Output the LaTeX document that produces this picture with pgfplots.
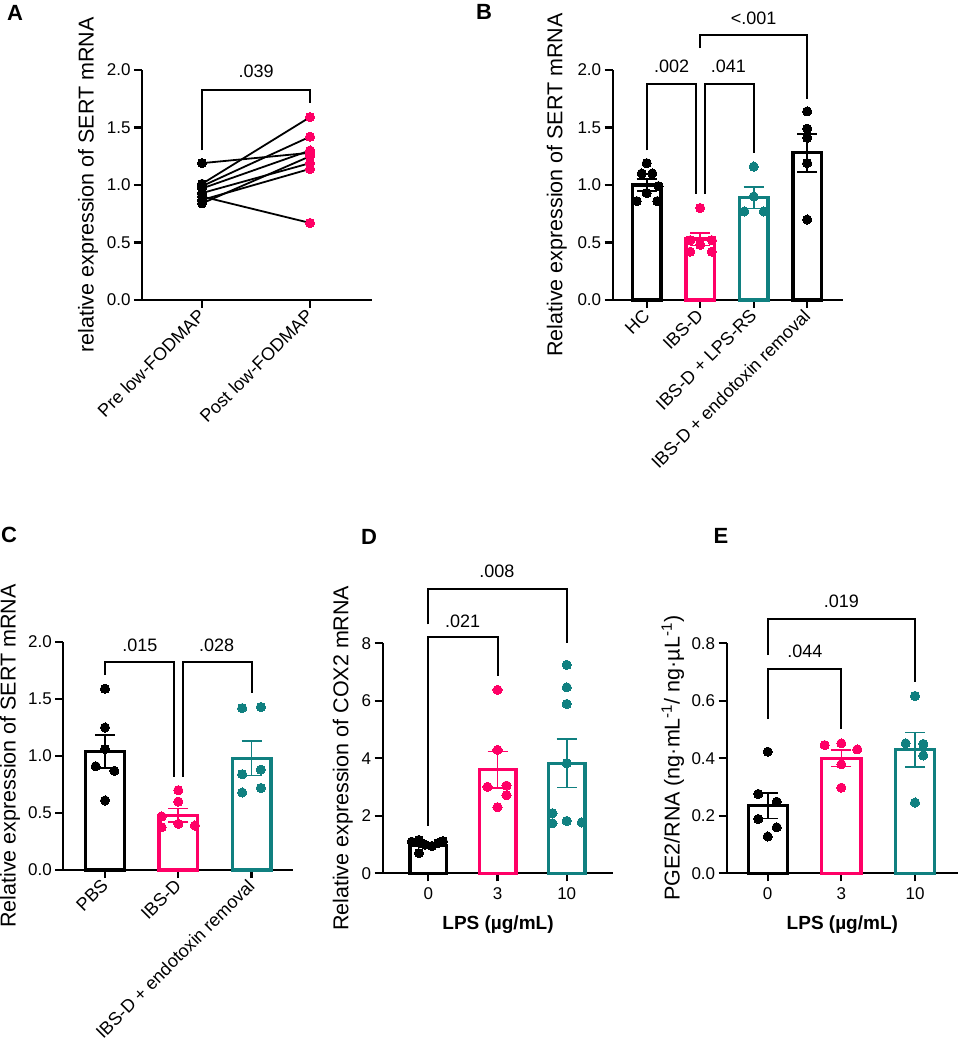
\documentclass[border=0pt]{standalone}
\usepackage{fontspec}
\setmainfont{Liberation Sans}
\usepackage{pgfplots}
\pgfplotsset{compat=1.18}
\definecolor{gpink}{RGB}{255,0,102}
\definecolor{gteal}{RGB}{16,128,128}
\newcommand\tickfont{\fontsize{17}{20}\selectfont}
\newcommand\rotfont{\fontsize{18}{21}\selectfont}
\newcommand\titlefont{\fontsize{21.5}{24}\selectfont}
\newcommand\brfont{\fontsize{18}{21}\selectfont}
\newcommand\letfont{\fontsize{22}{24}\selectfont\bfseries}
\pgfplotsset{
 gp/.style={
  scale only axis, clip=false,
  axis x line*=bottom, axis y line*=left,
  axis line style={-, line width=2.2pt, black},
  tick align=outside, major tick length=8pt,
  tick style={line width=2.2pt, black},
  minor tick num=0,
  tick label style={font=\tickfont},
  yticklabel style={/pgf/number format/.cd, fixed, fixed zerofill, precision=1, assume math mode=true},
  every axis y label/.style={rotate=90, anchor=center, font=\titlefont},
 },
 rot/.style={xticklabel style={rotate=45, anchor=east, font=\rotfont, yshift=-3pt}},
 barp/.style={ybar, bar width=0.53, bar shift=0pt, fill=white, draw=#1, line width=3.3pt},
 pts/.style={only marks, mark=*, mark size=4.6pt, color=#1, mark options={draw=#1, fill=#1, line width=0pt}},
 errp/.style={color=#1, mark=none, error bars/.cd, y dir=both, y explicit, error bar style={line width=1.6pt, #1}, error mark options={rotate=90, line width=1.6pt, mark size=10pt, #1}},
 brk/.style={black, line width=2pt, mark=none, line join=miter},
}
\begin{document}
\begin{tikzpicture}
\path[use as bounding box] (0,0) rectangle (958pt,1050pt);
% ---------------- A
\begin{axis}[gp, rot, at={(142pt,750pt)}, anchor=south west, width=230pt, height=230pt,
 xmin=-0.556, xmax=1.574, ymin=0, ymax=2, ytick={0,0.5,1,1.5,2}, xtick={0,1},
 xticklabels={Pre low-FODMAP, Post low-FODMAP},
 ylabel={relative expression of SERT mRNA},
 every axis y label/.append style={at={(axis description cs:-0.235,0.5)}}]
\addplot[black, line width=1.8pt] coordinates {(0,1.19) (1,1.28)};
\addplot[black, line width=1.8pt] coordinates {(0,1.01) (1,1.59)};
\addplot[black, line width=1.8pt] coordinates {(0,0.99) (1,1.42)};
\addplot[black, line width=1.8pt] coordinates {(0,0.97) (1,1.30)};
\addplot[black, line width=1.8pt] coordinates {(0,0.93) (1,1.19)};
\addplot[black, line width=1.8pt] coordinates {(0,0.90) (1,0.67)};
\addplot[black, line width=1.8pt] coordinates {(0,0.87) (1,1.14)};
\addplot[black, line width=1.8pt] coordinates {(0,0.84) (1,1.25)};
\addplot[pts=black] coordinates {(0,1.19) (0,1.01) (0,0.99) (0,0.97) (0,0.93) (0,0.90) (0,0.87) (0,0.84)};
\addplot[pts=gpink] coordinates {(1,1.28) (1,1.59) (1,1.42) (1,1.30) (1,1.25) (1,1.19) (1,1.14) (1,0.67)};
\addplot[brk] coordinates {(0,1.30) (0,1.83) (1,1.83) (1,1.716)};
\node[font=\brfont] at (axis cs:0.5,1.99) {.039};
\end{axis}
% ---------------- B
\begin{axis}[gp, rot, at={(612.7pt,750pt)}, anchor=south west, width=230pt, height=230pt,
 xmin=-0.636, xmax=3.664, ymin=0, ymax=2, ytick={0,0.5,1,1.5,2}, xtick={0,1,2,3},
 xticklabels={HC, IBS-D, IBS-D + LPS-RS, IBS-D + endotoxin removal},
 ylabel={Relative expression of SERT mRNA},
 every axis y label/.append style={at={(axis description cs:-0.2435,0.5)}}]
\addplot[barp=black] coordinates {(0,1.00)};
\addplot[barp=gpink] coordinates {(1,0.53)};
\addplot[barp=gteal] coordinates {(2,0.89)};
\addplot[barp=black] coordinates {(3,1.28)};
\addplot[pts=black] coordinates {(0,1.19) (-0.093,1.10) (0.105,1.10) (0.22,0.99) (0,0.93) (-0.187,0.86) (0.198,0.86)};
\addplot[pts=gpink] coordinates {(1,0.80) (0.813,0.52) (1,0.48) (1.218,0.52) (0.813,0.42) (1.218,0.42)};
\addplot[pts=gteal] coordinates {(2,1.16) (2,0.90) (1.826,0.77) (2.187,0.77)};
\addplot[pts=black] coordinates {(3,1.64) (3,1.49) (3,1.41) (3,1.19) (3,0.70)};
\addplot[errp=black] coordinates {(0,1.00) +- (0,0.05)};
\addplot[errp=gpink] coordinates {(1,0.53) +- (0,0.055)};
\addplot[errp=gteal] coordinates {(2,0.89) +- (0,0.095)};
\addplot[errp=black] coordinates {(3,1.28) +- (0,0.165)};
\addplot[brk] coordinates {(0,1.30) (0,1.876) (0.916,1.876) (0.916,0.92)};
\addplot[brk] coordinates {(1.09,0.92) (1.09,1.876) (2,1.876) (2,1.28)};
\addplot[brk] coordinates {(1,2.19) (1,2.30) (3,2.30) (3,1.75)};
\node[font=\brfont] at (axis cs:0.467,2.03) {.002};
\node[font=\brfont] at (axis cs:1.525,2.03) {.041};
\node[font=\brfont] at (axis cs:2.0,2.45) {<.001};
\end{axis}
% ---------------- C
\begin{axis}[gp, rot, at={(63.3pt,180pt)}, anchor=south west, width=230pt, height=228pt,
 xmin=-0.569, xmax=2.569, ymin=0, ymax=2, ytick={0,0.5,1,1.5,2}, xtick={0,1,2},
 xticklabels={PBS, IBS-D, IBS-D + endotoxin removal},
 ylabel={Relative expression of SERT mRNA},
 every axis y label/.append style={at={(axis description cs:-0.2317,0.5)}}]
\addplot[barp=black] coordinates {(0,1.04)};
\addplot[barp=gpink] coordinates {(1,0.48)};
\addplot[barp=gteal] coordinates {(2,0.98)};
\addplot[pts=black] coordinates {(0,1.59) (0,1.25) (0,1.06) (-0.127,0.91) (0.127,0.87) (0,0.61)};
\addplot[pts=gpink] coordinates {(1,0.70) (1,0.60) (0.773,0.47) (1,0.405) (0.773,0.375) (1.227,0.39)};
\addplot[pts=gteal] coordinates {(1.872,1.42) (2.127,1.43) (1.872,0.84) (2.127,0.88) (1.872,0.68) (2.127,0.72)};
\addplot[errp=black] coordinates {(0,1.04) +- (0,0.145)};
\addplot[errp=gpink] coordinates {(1,0.48) +- (0,0.058)};
\addplot[errp=gteal] coordinates {(2,0.98) +- (0,0.15)};
\addplot[brk] coordinates {(0,1.71) (0,1.824) (0.94,1.824) (0.94,0.82)};
\addplot[brk] coordinates {(1.06,0.82) (1.06,1.824) (2,1.824) (2,1.55)};
\node[font=\brfont] at (axis cs:0.477,1.97) {.015};
\node[font=\brfont] at (axis cs:1.524,1.97) {.028};
\end{axis}
% ---------------- D
\begin{axis}[gp, at={(382.7pt,176.7pt)}, anchor=south west, width=230.6pt, height=230pt,
 xmin=-0.659, xmax=2.673, ymin=0, ymax=8, ytick={0,2,4,6,8}, xtick={0,1,2},
 yticklabel style={/pgf/number format/precision=0},
 xticklabels={0,3,10},
 xticklabel style={yshift=-3pt},
 xlabel={\bfseries LPS (µg/mL)},
 xlabel style={at={(axis description cs:0.5,0)}, anchor=center, yshift=-51pt, font=\fontsize{19}{22}\selectfont},
 ylabel={Relative expression of COX2 mRNA},
 every axis y label/.append style={at={(axis description cs:-0.173,0.5)}}]
\addplot[barp=black] coordinates {(0,0.97)};
\addplot[barp=gpink] coordinates {(1,3.60)};
\addplot[barp=gteal] coordinates {(2,3.83)};
\addplot[pts=black] coordinates {(-0.24,1.10) (-0.135,1.16) (-0.135,0.70) (-0.05,1.00) (0.05,0.95) (0.14,1.05) (0.21,1.12)};
\addplot[pts=gpink] coordinates {(1,6.38) (1,4.29) (0.855,3.01) (1.13,3.05) (1.13,2.72) (1,2.30)};
\addplot[pts=gteal] coordinates {(2,7.25) (2,6.47) (2,5.89) (2,3.83) (1.793,2.09) (1.793,1.74) (2,1.82) (2.217,1.77)};
\addplot[errp=black] coordinates {(0,0.97) +- (0,0.06)};
\addplot[errp=gpink] coordinates {(1,3.60) +- (0,0.63)};
\addplot[errp=gteal] coordinates {(2,3.83) +- (0,0.84)};
\addplot[brk] coordinates {(0,1.65) (0,8.21) (1,8.21) (1,6.86)};
\addplot[brk] coordinates {(0,8.66) (0,9.88) (2,9.88) (2,8.02)};
\node[font=\brfont] at (axis cs:0.497,8.75) {.021};
\node[font=\brfont] at (axis cs:0.99,10.49) {.008};
\end{axis}
% ---------------- E
\begin{axis}[gp, at={(726.7pt,176.7pt)}, anchor=south west, width=231.3pt, height=230pt,
 xmin=-0.557, xmax=2.584, ymin=0, ymax=0.8, ytick={0,0.2,0.4,0.6,0.8}, xtick={0,1,2},
 xticklabels={0,3,10},
 xticklabel style={yshift=-3pt},
 xlabel={\bfseries LPS (µg/mL)},
 xlabel style={at={(axis description cs:0.5,0)}, anchor=center, yshift=-51pt, font=\fontsize{19}{22}\selectfont},
 ylabel={PGE2/RNA (ng·mL\textsuperscript{-1}/ ng·µL\textsuperscript{-1})},
 every axis y label/.append style={at={(axis description cs:-0.233,0.5)}}]
\addplot[barp=black] coordinates {(0,0.235)};
\addplot[barp=gpink] coordinates {(1,0.40)};
\addplot[barp=gteal] coordinates {(2,0.43)};
\addplot[pts=black] coordinates {(0,0.423) (-0.128,0.276) (0.122,0.249) (-0.128,0.189) (0.122,0.16) (0,0.128)};
\addplot[pts=gpink] coordinates {(0.774,0.446) (1,0.452) (1.217,0.431) (1,0.379) (1,0.298)};
\addplot[pts=gteal] coordinates {(2,0.617) (1.873,0.452) (2.113,0.45) (2.113,0.41) (2,0.246)};
\addplot[errp=black] coordinates {(0,0.235) +- (0,0.045)};
\addplot[errp=gpink] coordinates {(1,0.40) +- (0,0.029)};
\addplot[errp=gteal] coordinates {(2,0.43) +- (0,0.06)};
\addplot[brk] coordinates {(0,0.536) (0,0.711) (1,0.711) (1,0.501)};
\addplot[brk] coordinates {(0,0.759) (0,0.885) (2,0.885) (2,0.664)};
\node[font=\brfont] at (axis cs:0.506,0.771) {.044};
\node[font=\brfont] at (axis cs:1.0,0.945) {.019};
\end{axis}
% panel letters
\node[font=\letfont] at (15pt,1037.5pt) {A};
\node[font=\letfont] at (484pt,1038pt) {B};
\node[font=\letfont] at (9pt,515pt) {C};
\node[font=\letfont] at (369pt,513.5pt) {D};
\node[font=\letfont] at (721pt,514pt) {E};
\end{tikzpicture}
\end{document}
